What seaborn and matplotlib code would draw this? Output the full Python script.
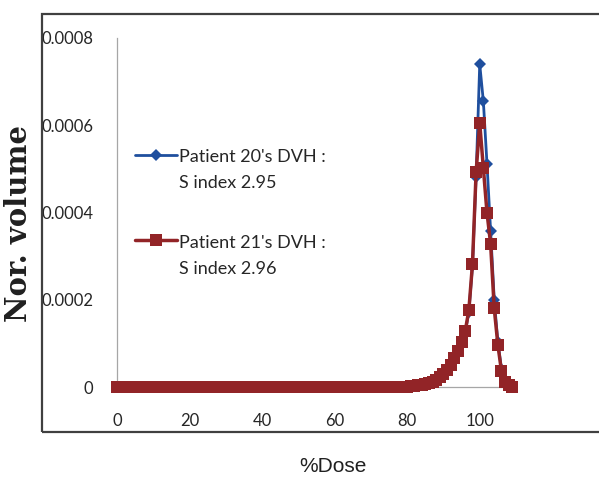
import numpy as np
import pandas as pd
import matplotlib
matplotlib.use("Agg")
import matplotlib.pyplot as plt
from matplotlib.legend_handler import HandlerLine2D
from matplotlib.patches import Rectangle
import seaborn as sns

# Dose axis (% of prescription), 1 % steps
dose = list(range(0, 110))

# Normalised volume per dose bin, non-zero part of each DVH (dose 80..109)
tail_start = 80
p20_tail = [0.000001, 0.000002, 0.000003, 0.000004, 0.000005,
            0.000007, 0.000009, 0.000012, 0.000016, 0.000021,
            0.000028, 0.000037, 0.000049, 0.000064, 0.000080,
            0.000100, 0.000125, 0.000172, 0.000277, 0.000482,
            0.000740, 0.000655, 0.000512, 0.000358, 0.000200,
            0.000103, 0.000041, 0.000014, 0.000005, 0.0]
p21_tail = [0.000001, 0.000002, 0.000003, 0.000004, 0.000005,
            0.000007, 0.000009, 0.000012, 0.000016, 0.000022,
            0.000029, 0.000039, 0.000051, 0.000066, 0.000082,
            0.000103, 0.000128, 0.000176, 0.000282, 0.000492,
            0.000605, 0.000502, 0.000400, 0.000328, 0.000180,
            0.000097, 0.000036, 0.000012, 0.000004, 0.0]

p20 = [0.0] * tail_start + p20_tail
p21 = [0.0] * tail_start + p21_tail

labels = ["Patient 20's DVH :\nS index 2.95", "Patient 21's DVH :\nS index 2.96"]
colors = ["#1F4F9E", "#922427"]
y_ticks = [0, 0.0002, 0.0004, 0.0006, 0.0008]
y_tick_labels = ["0", "0.0002", "0.0004", "0.0006", "0.0008"]
x_ticks = [0, 20, 40, 60, 80, 100]

df20 = pd.DataFrame({"dose": dose, "vol": p20})
df21 = pd.DataFrame({"dose": dose, "vol": p21})

sns.set_style("white")
plt.rcParams["font.family"] = ["Lato", "DejaVu Sans"]

W, H = 599, 480
fig = plt.figure(figsize=(W / 100, H / 100), dpi=100)
ax = fig.add_axes([117 / W, 1 - 387 / H, 399 / W, (387 - 38) / H])

sns.lineplot(data=df20, x="dose", y="vol", ax=ax, color=colors[0], lw=2.0,
             marker="D", markersize=5.8, markeredgewidth=0,
             markeredgecolor=colors[0], label=labels[0], clip_on=False,
             zorder=3)
sns.lineplot(data=df21, x="dose", y="vol", ax=ax, color=colors[1], lw=2.5,
             marker="s", markersize=8.6, markeredgewidth=0,
             markeredgecolor=colors[1], label=labels[1], clip_on=False,
             zorder=4)

ax.set_xlim(0, 110)
ax.set_ylim(0, 0.0008)
ax.set_xticks(x_ticks)
ax.set_xticklabels([str(v) for v in x_ticks])
ax.set_yticks(y_ticks)
ax.set_yticklabels(y_tick_labels)

for side in ["top", "right"]:
    ax.spines[side].set_visible(False)
for side in ["left", "bottom"]:
    ax.spines[side].set_color("#A6A6A6")
    ax.spines[side].set_linewidth(0.9)

ax.tick_params(axis="y", direction="out", length=4, width=0.8,
               color="#A6A6A6", pad=13, labelsize=12, labelcolor="#262626")
ax.tick_params(axis="x", direction="out", length=3, width=0.8,
               color="#A6A6A6", pad=16, labelsize=12, labelcolor="#262626")

ax.set_xlabel("%Dose", fontsize=15, color="#202020",
              family=["Liberation Sans Narrow", "Liberation Sans", "DejaVu Sans"])
ax.xaxis.set_label_coords((333 - 117) / 399, (387 - 466) / 349)
ax.xaxis.label.set_va("center")

ax.set_ylabel("Nor. volume", fontsize=21, fontweight="bold", color="#202020",
              family=["DejaVu Serif"])
ax.yaxis.set_label_coords((19 - 117) / 399, (387 - 224) / 349)
ax.yaxis.label.set_va("center")


class RaisedLineHandler(HandlerLine2D):
    """Line handler whose sample sits beside the first line of a two-line label."""

    def __init__(self, dy, **kw):
        super().__init__(**kw)
        self.dy = dy

    def create_artists(self, legend, orig_handle, xdescent, ydescent,
                       width, height, fontsize, trans):
        arts = super().create_artists(legend, orig_handle, xdescent, ydescent,
                                      width, height, fontsize, trans)
        for a in arts:
            a.set_ydata(np.asarray(a.get_ydata(), dtype=float) + self.dy)
        return arts


handles, labs = ax.get_legend_handles_labels()
leg = ax.legend(handles, labs, loc="upper left",
                bbox_to_anchor=(135 / W, 1 - 149 / H),
                bbox_transform=fig.transFigure,
                frameon=False, fontsize=13, handlelength=2.3,
                handletextpad=0.15, labelspacing=2.4, borderpad=0,
                borderaxespad=0,
                handler_map={h: RaisedLineHandler(11.3) for h in handles})
for t in leg.get_texts():
    t.set_color("#262626")
    t.set_linespacing(1.8)

# Outer chart frame
fig.add_artist(Rectangle((42 / W, 1 - 432 / H), 1.0, (432 - 14) / H,
                         transform=fig.transFigure, fill=False,
                         ec="#404040", lw=1.6))

fig.savefig("out.png", dpi=100)
